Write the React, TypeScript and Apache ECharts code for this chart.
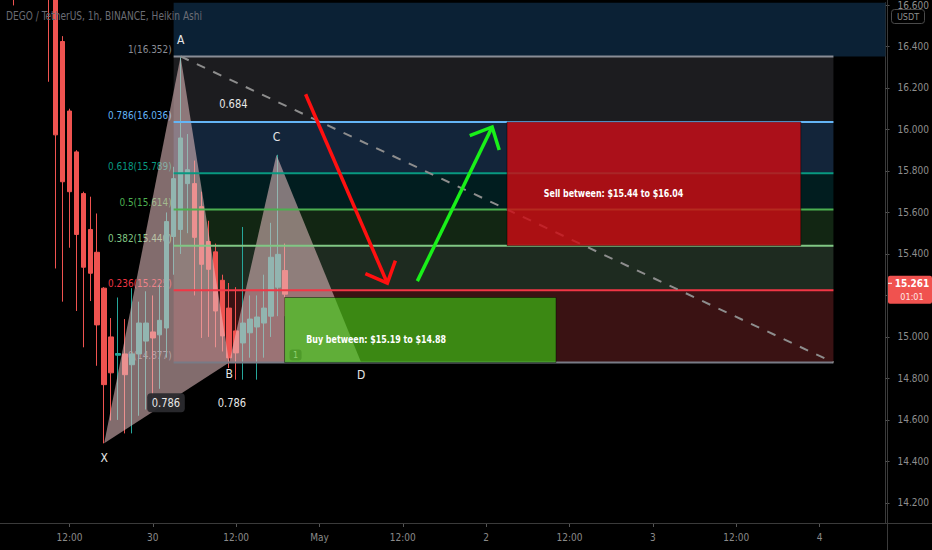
import React, { useEffect, useRef } from "react";
import * as echarts from "echarts";

const FONT = "'Liberation Sans Narrow', 'DejaVu Sans Condensed', 'Liberation Sans', sans-serif";

// ---- axes (hours from 30 Apr 00:00, price in USDT)
const X_MIN = -22;
const X_MAX = 105.5;
const Y_MIN = 14.1031;
const Y_MAX = 16.6115;
const xTickHours = [-12, 0, 12, 24, 36, 48, 60, 72, 84, 96];
const xTickLabels = ["12:00", "30", "12:00", "May", "12:00", "2", "12:00", "3", "12:00", "4"];
const yTickPrices = [14.2, 14.4, 14.6, 14.8, 15.0, 15.2, 15.4, 15.6, 15.8, 16.0, 16.2, 16.4, 16.6];
// 15.200 sits under the last-price tag, so its label is not shown
const yLabelPrices = [14.2, 14.4, 14.6, 14.8, 15.0, 15.4, 15.6, 15.8, 16.0, 16.2, 16.4, 16.6];

// ---- Heikin Ashi candles (1h)
const candleHours = [-20, -15, -14, -13, -12, -11, -10, -9, -8, -7, -6, -5, -4, -3, -2, -1, 0, 1, 2, 3, 4, 5, 6, 7, 8, 9, 10, 11, 12, 13, 14, 15, 16, 17, 18, 19];
const candleOpen = [16.95, 16.95, 16.95, 16.424, 16.089, 15.892, 15.691, 15.518, 15.408, 15.235, 15.0, 14.912, 14.918, 14.866, 14.918, 14.98, 15.024, 15.01, 15.043, 15.484, 15.518, 15.739, 15.739, 15.628, 15.46, 15.41, 15.273, 15.139, 15.029, 14.971, 15.02, 15.048, 15.067, 15.1, 15.24, 15.32];
const candleClose = [16.9, 16.9, 15.974, 15.748, 15.7, 15.494, 15.336, 15.307, 15.058, 14.77, 14.827, 14.92, 14.818, 14.918, 15.067, 15.067, 14.995, 15.08, 15.556, 15.763, 15.959, 15.806, 15.48, 15.35, 15.326, 15.125, 15.005, 14.899, 14.923, 15.067, 15.086, 15.096, 15.139, 15.384, 15.398, 15.206];
const candleLow = [16.598, 16.23, 15.33, 15.17, 15.43, 15.125, 14.95, 15.173, 14.861, 14.487, 14.597, 14.6, 14.535, 14.535, 14.62, 14.65, 14.7, 14.75, 14.9, 15.3, 15.4, 15.5, 15.2, 14.995, 15.0, 14.95, 14.93, 14.85, 14.794, 14.794, 14.9, 14.794, 14.9, 15.0, 15.1, 15.1];
const candleHigh = [17.0, 17.0, 17.0, 16.45, 16.1, 15.9, 15.7, 15.676, 15.595, 15.24, 15.091, 15.19, 15.086, 15.235, 15.17, 15.22, 15.2, 15.25, 15.6, 15.82, 16.352, 15.978, 15.85, 15.7, 15.56, 15.45, 15.3, 15.26, 15.24, 15.53, 15.2, 15.2, 15.3, 15.55, 15.878, 15.45];
const lastPrice = 15.261;
const lastPriceText = "15.261";
const countdownText = "01:01";

// ---- Fibonacci retracement
const fibStartHour = 3;
const fibEndHour = 98;
const fibRatios = ["1", "0.786", "0.618", "0.5", "0.382", "0.236", "0"];
const fibPrices = [16.352, 16.036, 15.789, 15.614, 15.44, 15.225, 14.877];
const fibColors = ["#8a8d96", "#64b5f6", "#089981", "#4caf50", "#81c784", "#f23645", "#787b86"];
const bandColors = ["#0b2135", "#1c1c1f", "#13253a", "#011d1f", "#122613", "#1e2b20", "#3a1213"];

// ---- XABCD pattern
const patternNames = ["X", "A", "B", "C", "D"];
const patternHours = [-7, 4, 11, 17.8, 30];
const patternPrices = [14.487, 16.352, 14.877, 15.878, 14.877];
const patternLabelDy = [15, -16, 12, -18, 13];
const ratioTexts = ["0.684", "0.786", "0.786"];
const ratioHours = [11.6, 1.9, 11.4];
const ratioPrices = [16.122, 14.683, 14.683];
const trendFrom = [4, 16.352];
const trendTo = [98, 14.877];

// ---- zones
const zoneTexts = ["Sell between: $15.44 to $16.04", "Buy between: $15.19 to $14.88"];
const zoneStart = [51.0, 18.97];
const zoneEnd = [93.3, 58.06];
const zoneTop = [16.036, 15.19];
const zoneBottom = [15.44, 14.877];
const zoneColors = ["rgba(205,12,19,0.82)", "rgba(60,210,20,0.62)"];
const zoneLabelHours = [56.3, 22.1];
const zoneLabelPrices = [15.695, 14.99];

// ---- arrows
const arrowFromHours = [22.0, 38.09];
const arrowFromPrices = [16.17, 15.269];
const arrowToHours = [33.77, 48.86];
const arrowToPrices = [15.259, 16.012];
const arrowColors = ["#ff1010", "#19f019"];

export default function App() {
  const ref = useRef<HTMLDivElement>(null);
  useEffect(() => {
    const el = ref.current!;
    const chart = echarts.init(el, null, { renderer: "svg" });

    const bandTops = [Y_MAX, ...fibPrices.slice(0, -1)];
    const bandBottoms = [fibPrices[0], ...fibPrices.slice(1)];
    const bandRights = bandTops.map((_, i) => (i === 0 ? X_MAX : fibEndHour));

    const triangles = [[0, 1, 2], [2, 3, 4]].map((t) => t.flatMap((k) => [patternHours[k], patternPrices[k]]));

    const option: any = {
      animation: false,
      backgroundColor: "#000000",
      grid: { left: 0, right: 45, top: 0, bottom: 27 },
      xAxis: {
        type: "value",
        min: X_MIN,
        max: X_MAX,
        splitLine: { show: false },
        axisLine: { show: true, onZero: false, lineStyle: { color: "#3a3a3a" } },
        axisTick: { show: true, customValues: xTickHours, length: 4, lineStyle: { color: "#555" } },
        axisLabel: {
          customValues: xTickHours,
          formatter: (v: number) => {
            const i = xTickHours.findIndex((h) => Math.abs(h - v) < 1e-6);
            return i >= 0 ? xTickLabels[i] : "";
          },
          color: "#8a8a8a",
          fontSize: 10,
          fontFamily: FONT,
          margin: 9,
        },
      },
      yAxis: {
        type: "value",
        position: "right",
        min: Y_MIN,
        max: Y_MAX,
        splitLine: { show: false },
        axisLine: { show: true, onZero: false, lineStyle: { color: "#3a3a3a" } },
        axisTick: { show: true, customValues: yTickPrices, length: 4, lineStyle: { color: "#555" } },
        axisLabel: {
          customValues: yLabelPrices,
          formatter: (v: number) => v.toFixed(3),
          color: "#8e8e8e",
          fontSize: 10,
          fontFamily: FONT,
          margin: 12,
        },
      },
      series: [
        {
          type: "custom",
          name: "fibBands",
          z: 1,
          silent: true,
          clip: true,
          data: bandTops.map((t, i) => [fibStartHour, bandRights[i], t, bandBottoms[i]]),
          renderItem: (params: any, api: any) => {
            const a = api.coord([api.value(0), api.value(2)]);
            const b = api.coord([api.value(1), api.value(3)]);
            return {
              type: "rect",
              shape: { x: a[0], y: a[1], width: b[0] - a[0], height: b[1] - a[1] },
              style: { fill: bandColors[params.dataIndex] },
            };
          },
        },
        {
          type: "custom",
          name: "fibLabels",
          z: 2,
          silent: true,
          data: fibPrices.map((p) => [fibStartHour, p]),
          renderItem: (params: any, api: any) => {
            const a = api.coord([api.value(0), api.value(1)]);
            const i = params.dataIndex;
            return {
              type: "text",
              x: a[0] - 2,
              y: a[1] - 2,
              scaleX: 0.9,
              style: {
                text: `${fibRatios[i]}(${fibPrices[i].toFixed(3)})`,
                fill: fibColors[i],
                font: `11px ${FONT}`,
                align: "right",
                verticalAlign: "bottom",
              },
            };
          },
        },
        {
          type: "candlestick",
          name: "DEGO",
          z: 3,
          barWidth: 5,
          data: candleHours.map((h, i) => [h, candleOpen[i], candleClose[i], candleLow[i], candleHigh[i]]),
          encode: { x: 0, y: [1, 2, 3, 4] },
          itemStyle: {
            color: "#26a69a",
            color0: "#ef5350",
            borderColor: "#26a69a",
            borderColor0: "#ef5350",
            borderWidth: 1,
          },
          clip: true,
        },
        {
          type: "custom",
          name: "pattern",
          z: 4,
          silent: true,
          data: triangles,
          renderItem: (params: any, api: any) => {
            const pts = [0, 1, 2].map((k) => api.coord([api.value(2 * k), api.value(2 * k + 1)]));
            return { type: "polygon", shape: { points: pts }, style: { fill: "rgba(232,192,194,0.56)" } };
          },
        },
        {
          type: "custom",
          name: "fibLines",
          z: 5,
          silent: true,
          data: fibPrices.map((p) => [fibStartHour, fibEndHour, p]),
          renderItem: (params: any, api: any) => {
            const a = api.coord([api.value(0), api.value(2)]);
            const b = api.coord([api.value(1), api.value(2)]);
            return {
              type: "line",
              shape: { x1: a[0], y1: a[1], x2: b[0], y2: b[1] },
              style: { stroke: fibColors[params.dataIndex], lineWidth: 2 },
            };
          },
        },
        {
          type: "custom",
          name: "trend",
          z: 5,
          silent: true,
          data: [[trendFrom[0], trendFrom[1], trendTo[0], trendTo[1]]],
          renderItem: (params: any, api: any) => {
            const a = api.coord([api.value(0), api.value(1)]);
            const b = api.coord([api.value(2), api.value(3)]);
            return {
              type: "line",
              shape: { x1: a[0], y1: a[1], x2: b[0], y2: b[1] },
              style: { stroke: "#8d8d8d", lineWidth: 2, lineDash: [9, 9] },
            };
          },
        },
        {
          type: "custom",
          name: "zones",
          z: 6,
          silent: true,
          data: zoneStart.map((s, i) => [s, zoneTop[i], zoneEnd[i], zoneBottom[i]]),
          renderItem: (params: any, api: any) => {
            const a = api.coord([api.value(0), api.value(1)]);
            const b = api.coord([api.value(2), api.value(3)]);
            return {
              type: "rect",
              shape: { x: a[0], y: a[1], width: b[0] - a[0], height: b[1] - a[1] },
              style: { fill: zoneColors[params.dataIndex], stroke: "rgba(0,0,0,0.45)", lineWidth: 1 },
            };
          },
        },
        {
          type: "custom",
          name: "zoneLabels",
          z: 7,
          silent: true,
          data: zoneLabelHours.map((h, i) => [h, zoneLabelPrices[i]]),
          renderItem: (params: any, api: any) => {
            const a = api.coord([api.value(0), api.value(1)]);
            return {
              type: "text",
              x: a[0],
              y: a[1],
              scaleX: 0.8,
              style: {
                text: zoneTexts[params.dataIndex],
                fill: "#ffffff",
                font: `bold 11px ${FONT}`,
                align: "left",
                verticalAlign: "middle",
              },
            };
          },
        },
        {
          type: "custom",
          name: "arrows",
          z: 8,
          silent: true,
          data: arrowFromHours.map((h, i) => [h, arrowFromPrices[i], arrowToHours[i], arrowToPrices[i]]),
          renderItem: (params: any, api: any) => {
            const s = api.coord([api.value(0), api.value(1)]);
            const t = api.coord([api.value(2), api.value(3)]);
            const ang = Math.atan2(s[1] - t[1], s[0] - t[0]);
            const L = 24;
            const da = (43 * Math.PI) / 180;
            const w1 = [t[0] + L * Math.cos(ang + da), t[1] + L * Math.sin(ang + da)];
            const w2 = [t[0] + L * Math.cos(ang - da), t[1] + L * Math.sin(ang - da)];
            const color = arrowColors[params.dataIndex];
            return {
              type: "group",
              children: [
                { type: "line", shape: { x1: s[0], y1: s[1], x2: t[0], y2: t[1] }, style: { stroke: color, lineWidth: 3.5 } },
                { type: "polyline", shape: { points: [w1, t, w2] }, style: { stroke: color, lineWidth: 3.5, fill: null } },
              ],
            };
          },
        },
        {
          type: "custom",
          name: "pointLabels",
          z: 8,
          silent: true,
          data: patternHours.map((h, i) => [h, patternPrices[i]]),
          renderItem: (params: any, api: any) => {
            const a = api.coord([api.value(0), api.value(1)]);
            const i = params.dataIndex;
            return {
              type: "text",
              x: a[0],
              y: a[1] + patternLabelDy[i],
              style: { text: patternNames[i], fill: "#e6e6e6", font: `12px ${FONT}`, align: "center", verticalAlign: "middle" },
            };
          },
        },
        {
          type: "custom",
          name: "ratioLabels",
          z: 8,
          silent: true,
          data: ratioHours.map((h, i) => [h, ratioPrices[i]]),
          renderItem: (params: any, api: any) => {
            const a = api.coord([api.value(0), api.value(1)]);
            const i = params.dataIndex;
            const boxed = i === 1;
            return {
              type: "text",
              x: a[0],
              y: a[1],
              scaleX: 0.92,
              style: {
                text: ratioTexts[i],
                fill: "#e8e8e8",
                font: `12px ${FONT}`,
                align: "center",
                verticalAlign: "middle",
                backgroundColor: boxed ? "rgba(42,42,46,0.95)" : undefined,
                padding: boxed ? [4, 5, 3, 5] : 0,
                borderRadius: boxed ? 4 : 0,
              },
            };
          },
        },
      ],
    };

    chart.setOption(option);

    const yLast = chart.convertToPixel({ yAxisIndex: 0 }, lastPrice) as number;
    const buyCorner = chart.convertToPixel({ gridIndex: 0 }, [zoneStart[1], zoneBottom[1]]) as number[];

    chart.setOption({
      graphic: [
        {
          type: "text",
          x: 6,
          y: 16,
          z: 100,
          scaleX: 0.84,
          style: { text: "DEGO / TetherUS, 1h, BINANCE, Heikin Ashi", fill: "#6a6c74", font: `12px ${FONT}`, verticalAlign: "middle" },
        },
        { type: "line", shape: { x1: 887.5, y1: 0, x2: 887.5, y2: 550 }, style: { stroke: "#3a3a3a", lineWidth: 1 }, z: 50 },
        { type: "line", shape: { x1: 0, y1: 523.5, x2: 932, y2: 523.5 }, style: { stroke: "#3a3a3a", lineWidth: 1 }, z: 50 },
        { type: "rect", shape: { x: 891.5, y: 9.5, width: 33, height: 14, r: 3 }, style: { fill: "#000", stroke: "#4a4a4a", lineWidth: 1 }, z: 60 },
        { type: "text", x: 908, y: 17, style: { text: "USDT", fill: "#8e8e8e", font: `9px ${FONT}`, align: "center", verticalAlign: "middle" }, z: 61 },
        { type: "rect", shape: { x: 888, y: yLast - 7, width: 44, height: 28, r: 2 }, style: { fill: "#f0524f" }, z: 60 },
        { type: "line", shape: { x1: 888, y1: yLast + 0.5, x2: 892, y2: yLast + 0.5 }, style: { stroke: "#fff", lineWidth: 1 }, z: 61 },
        { type: "text", x: 912, y: yLast + 1, style: { text: lastPriceText, fill: "#ffffff", font: `bold 10px ${FONT}`, align: "center", verticalAlign: "middle" }, z: 61 },
        { type: "text", x: 912, y: yLast + 14, style: { text: countdownText, fill: "#ffe5e5", font: `9px ${FONT}`, align: "center", verticalAlign: "middle" }, z: 61 },
        { type: "rect", shape: { x: buyCorner[0] + 5, y: buyCorner[1] - 13, width: 12, height: 11, r: 3 }, style: { fill: "#4e9a2a" }, z: 62 },
        { type: "text", x: buyCorner[0] + 11, y: buyCorner[1] - 7, style: { text: "1", fill: "#8fd070", font: `9px ${FONT}`, align: "center", verticalAlign: "middle" }, z: 63 },
      ],
    });

    return () => chart.dispose();
  }, []);

  return (
    <div
      ref={ref}
      style={{ position: "fixed", left: 0, top: 0, width: 932, height: 550, background: "#000" }}
    />
  );
}
